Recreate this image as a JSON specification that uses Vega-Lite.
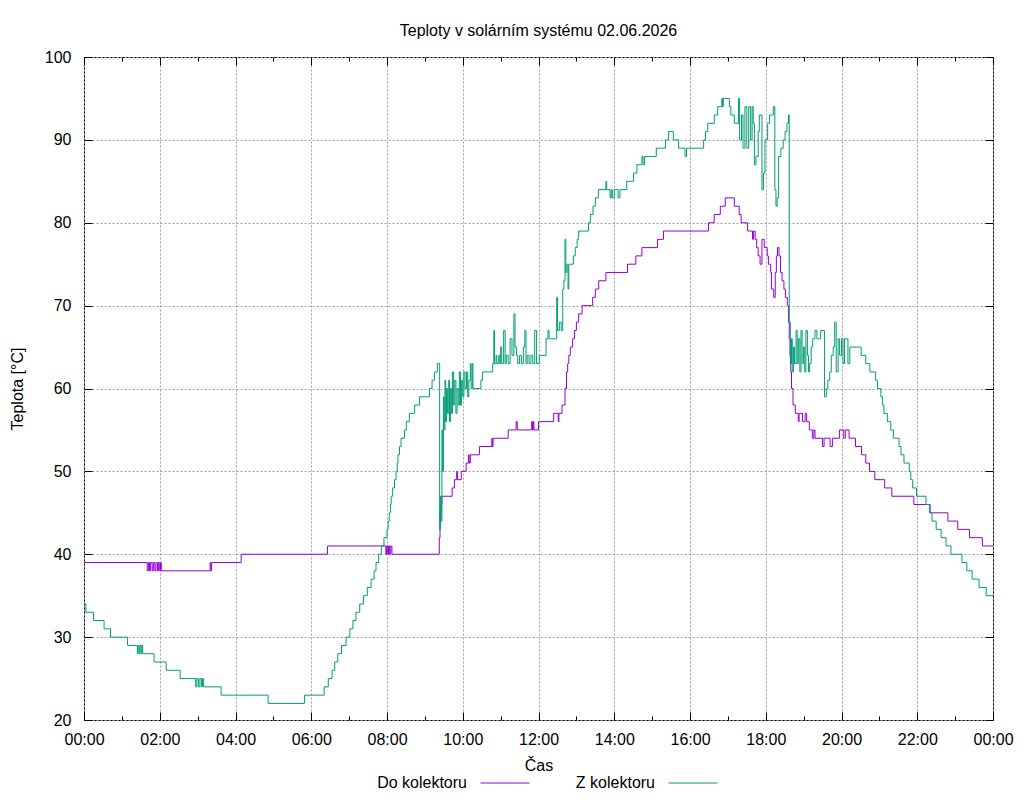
{
  "$schema": "https://vega.github.io/schema/vega-lite/v6.json",
  "width": 909,
  "height": 663,
  "autosize": {"type": "none"},
  "padding": {"left": 84, "top": 57, "right": 31, "bottom": 80},
  "background": "white",
  "title": {
    "text": "Teploty v solárním systému 02.06.2026",
    "fontSize": 16,
    "fontWeight": "normal",
    "color": "black",
    "anchor": "middle",
    "baseline": "alphabetic",
    "offset": -3
  },
  "config": {
    "font": "Liberation Sans",
    "view": {"stroke": "black", "strokeWidth": 1},
    "axis": {
      "labelFontSize": 16,
      "titleFontSize": 16,
      "titleFontWeight": "normal",
      "labelColor": "black",
      "titleColor": "black",
      "tickColor": "black",
      "tickWidth": 1,
      "domain": false,
      "labelFlush": false,
      "labelOverlap": false,
      "gridColor": "#a0a0a0",
      "gridDash": [2, 2],
      "gridWidth": 1
    }
  },
  "data": {
    "values": [
      {"s": "Do kolektoru", "t": 0, "v": 39},
      {"s": "Do kolektoru", "t": 1.67, "v": 38},
      {"s": "Do kolektoru", "t": 1.7, "v": 39},
      {"s": "Do kolektoru", "t": 1.73, "v": 38},
      {"s": "Do kolektoru", "t": 1.76, "v": 39},
      {"s": "Do kolektoru", "t": 1.8, "v": 38},
      {"s": "Do kolektoru", "t": 1.83, "v": 39},
      {"s": "Do kolektoru", "t": 1.87, "v": 38},
      {"s": "Do kolektoru", "t": 1.9, "v": 39},
      {"s": "Do kolektoru", "t": 1.94, "v": 38},
      {"s": "Do kolektoru", "t": 1.97, "v": 39},
      {"s": "Do kolektoru", "t": 2.0, "v": 38},
      {"s": "Do kolektoru", "t": 2.02, "v": 39},
      {"s": "Do kolektoru", "t": 2.04, "v": 38},
      {"s": "Do kolektoru", "t": 3.33, "v": 39},
      {"s": "Do kolektoru", "t": 3.35, "v": 38},
      {"s": "Do kolektoru", "t": 3.37, "v": 39},
      {"s": "Do kolektoru", "t": 4.15, "v": 40},
      {"s": "Do kolektoru", "t": 6.43, "v": 41},
      {"s": "Do kolektoru", "t": 7.97, "v": 40},
      {"s": "Do kolektoru", "t": 7.99, "v": 41},
      {"s": "Do kolektoru", "t": 8.02, "v": 40},
      {"s": "Do kolektoru", "t": 8.04, "v": 41},
      {"s": "Do kolektoru", "t": 8.07, "v": 40},
      {"s": "Do kolektoru", "t": 8.1, "v": 41},
      {"s": "Do kolektoru", "t": 8.13, "v": 40},
      {"s": "Do kolektoru", "t": 9.38, "v": 42},
      {"s": "Do kolektoru", "t": 9.4, "v": 45},
      {"s": "Do kolektoru", "t": 9.43, "v": 46},
      {"s": "Do kolektoru", "t": 9.45, "v": 47},
      {"s": "Do kolektoru", "t": 9.72, "v": 48},
      {"s": "Do kolektoru", "t": 9.78, "v": 49},
      {"s": "Do kolektoru", "t": 9.84, "v": 50},
      {"s": "Do kolektoru", "t": 9.86, "v": 49},
      {"s": "Do kolektoru", "t": 9.96, "v": 50},
      {"s": "Do kolektoru", "t": 10.09, "v": 51},
      {"s": "Do kolektoru", "t": 10.15, "v": 52},
      {"s": "Do kolektoru", "t": 10.17, "v": 51},
      {"s": "Do kolektoru", "t": 10.2, "v": 52},
      {"s": "Do kolektoru", "t": 10.44, "v": 53},
      {"s": "Do kolektoru", "t": 10.77, "v": 54},
      {"s": "Do kolektoru", "t": 10.78, "v": 53},
      {"s": "Do kolektoru", "t": 10.8, "v": 54},
      {"s": "Do kolektoru", "t": 11.2, "v": 55},
      {"s": "Do kolektoru", "t": 11.41, "v": 56},
      {"s": "Do kolektoru", "t": 11.44, "v": 55},
      {"s": "Do kolektoru", "t": 11.82, "v": 56},
      {"s": "Do kolektoru", "t": 11.84, "v": 55},
      {"s": "Do kolektoru", "t": 11.86, "v": 56},
      {"s": "Do kolektoru", "t": 11.88, "v": 55},
      {"s": "Do kolektoru", "t": 12.0, "v": 56},
      {"s": "Do kolektoru", "t": 12.4, "v": 57},
      {"s": "Do kolektoru", "t": 12.52, "v": 56},
      {"s": "Do kolektoru", "t": 12.54, "v": 57},
      {"s": "Do kolektoru", "t": 12.62, "v": 58},
      {"s": "Do kolektoru", "t": 12.7, "v": 60},
      {"s": "Do kolektoru", "t": 12.74, "v": 62},
      {"s": "Do kolektoru", "t": 12.77, "v": 63},
      {"s": "Do kolektoru", "t": 12.8, "v": 64},
      {"s": "Do kolektoru", "t": 12.84, "v": 65},
      {"s": "Do kolektoru", "t": 12.9, "v": 66},
      {"s": "Do kolektoru", "t": 12.95, "v": 67},
      {"s": "Do kolektoru", "t": 13.0, "v": 68},
      {"s": "Do kolektoru", "t": 13.06, "v": 69},
      {"s": "Do kolektoru", "t": 13.15, "v": 70},
      {"s": "Do kolektoru", "t": 13.43, "v": 71},
      {"s": "Do kolektoru", "t": 13.5, "v": 72},
      {"s": "Do kolektoru", "t": 13.59, "v": 73},
      {"s": "Do kolektoru", "t": 13.78, "v": 74},
      {"s": "Do kolektoru", "t": 14.35, "v": 75},
      {"s": "Do kolektoru", "t": 14.57, "v": 76},
      {"s": "Do kolektoru", "t": 14.73, "v": 77},
      {"s": "Do kolektoru", "t": 15.14, "v": 78},
      {"s": "Do kolektoru", "t": 15.3, "v": 79},
      {"s": "Do kolektoru", "t": 16.49, "v": 80},
      {"s": "Do kolektoru", "t": 16.64, "v": 81},
      {"s": "Do kolektoru", "t": 16.8, "v": 82},
      {"s": "Do kolektoru", "t": 16.93, "v": 83},
      {"s": "Do kolektoru", "t": 17.17, "v": 82},
      {"s": "Do kolektoru", "t": 17.3, "v": 81},
      {"s": "Do kolektoru", "t": 17.35, "v": 80},
      {"s": "Do kolektoru", "t": 17.52, "v": 79},
      {"s": "Do kolektoru", "t": 17.65, "v": 78},
      {"s": "Do kolektoru", "t": 17.68, "v": 79},
      {"s": "Do kolektoru", "t": 17.72, "v": 78},
      {"s": "Do kolektoru", "t": 17.76, "v": 77},
      {"s": "Do kolektoru", "t": 17.8, "v": 76},
      {"s": "Do kolektoru", "t": 17.85, "v": 75},
      {"s": "Do kolektoru", "t": 17.9, "v": 78},
      {"s": "Do kolektoru", "t": 17.96, "v": 77},
      {"s": "Do kolektoru", "t": 18.04, "v": 76},
      {"s": "Do kolektoru", "t": 18.07, "v": 75},
      {"s": "Do kolektoru", "t": 18.13, "v": 74},
      {"s": "Do kolektoru", "t": 18.15, "v": 72},
      {"s": "Do kolektoru", "t": 18.21, "v": 71},
      {"s": "Do kolektoru", "t": 18.25, "v": 74},
      {"s": "Do kolektoru", "t": 18.28, "v": 76},
      {"s": "Do kolektoru", "t": 18.31, "v": 77},
      {"s": "Do kolektoru", "t": 18.35, "v": 76},
      {"s": "Do kolektoru", "t": 18.39, "v": 74},
      {"s": "Do kolektoru", "t": 18.43, "v": 73},
      {"s": "Do kolektoru", "t": 18.48, "v": 72},
      {"s": "Do kolektoru", "t": 18.52, "v": 71},
      {"s": "Do kolektoru", "t": 18.57, "v": 70},
      {"s": "Do kolektoru", "t": 18.6, "v": 68},
      {"s": "Do kolektoru", "t": 18.62, "v": 66},
      {"s": "Do kolektoru", "t": 18.64, "v": 64},
      {"s": "Do kolektoru", "t": 18.66, "v": 62},
      {"s": "Do kolektoru", "t": 18.68, "v": 60},
      {"s": "Do kolektoru", "t": 18.72, "v": 58},
      {"s": "Do kolektoru", "t": 18.78, "v": 57},
      {"s": "Do kolektoru", "t": 18.86, "v": 56},
      {"s": "Do kolektoru", "t": 18.88, "v": 57},
      {"s": "Do kolektoru", "t": 18.97, "v": 56},
      {"s": "Do kolektoru", "t": 19.04, "v": 57},
      {"s": "Do kolektoru", "t": 19.08, "v": 56},
      {"s": "Do kolektoru", "t": 19.15, "v": 55},
      {"s": "Do kolektoru", "t": 19.23, "v": 54},
      {"s": "Do kolektoru", "t": 19.27, "v": 55},
      {"s": "Do kolektoru", "t": 19.3, "v": 54},
      {"s": "Do kolektoru", "t": 19.5, "v": 53},
      {"s": "Do kolektoru", "t": 19.54, "v": 54},
      {"s": "Do kolektoru", "t": 19.7, "v": 53},
      {"s": "Do kolektoru", "t": 19.76, "v": 54},
      {"s": "Do kolektoru", "t": 19.95, "v": 55},
      {"s": "Do kolektoru", "t": 20.06, "v": 54},
      {"s": "Do kolektoru", "t": 20.1, "v": 55},
      {"s": "Do kolektoru", "t": 20.2, "v": 54},
      {"s": "Do kolektoru", "t": 20.37, "v": 53},
      {"s": "Do kolektoru", "t": 20.53, "v": 52},
      {"s": "Do kolektoru", "t": 20.64, "v": 51},
      {"s": "Do kolektoru", "t": 20.74, "v": 50},
      {"s": "Do kolektoru", "t": 20.88, "v": 49},
      {"s": "Do kolektoru", "t": 21.14, "v": 48},
      {"s": "Do kolektoru", "t": 21.33, "v": 47},
      {"s": "Do kolektoru", "t": 21.91, "v": 46},
      {"s": "Do kolektoru", "t": 22.34, "v": 45},
      {"s": "Do kolektoru", "t": 22.81, "v": 44},
      {"s": "Do kolektoru", "t": 23.07, "v": 43},
      {"s": "Do kolektoru", "t": 23.38, "v": 42},
      {"s": "Do kolektoru", "t": 23.72, "v": 41},
      {"s": "Do kolektoru", "t": 24.0, "v": 41},

      {"s": "Z kolektoru", "t": 0, "v": 34},
      {"s": "Z kolektoru", "t": 0.05, "v": 33},
      {"s": "Z kolektoru", "t": 0.25, "v": 32},
      {"s": "Z kolektoru", "t": 0.53, "v": 31},
      {"s": "Z kolektoru", "t": 0.7, "v": 30},
      {"s": "Z kolektoru", "t": 1.15, "v": 29},
      {"s": "Z kolektoru", "t": 1.41, "v": 28},
      {"s": "Z kolektoru", "t": 1.43, "v": 29},
      {"s": "Z kolektoru", "t": 1.46, "v": 28},
      {"s": "Z kolektoru", "t": 1.48, "v": 29},
      {"s": "Z kolektoru", "t": 1.51, "v": 28},
      {"s": "Z kolektoru", "t": 1.53, "v": 29},
      {"s": "Z kolektoru", "t": 1.55, "v": 28},
      {"s": "Z kolektoru", "t": 1.85, "v": 27},
      {"s": "Z kolektoru", "t": 2.17, "v": 26},
      {"s": "Z kolektoru", "t": 2.54, "v": 25},
      {"s": "Z kolektoru", "t": 2.95, "v": 24},
      {"s": "Z kolektoru", "t": 2.98, "v": 25},
      {"s": "Z kolektoru", "t": 3.02, "v": 24},
      {"s": "Z kolektoru", "t": 3.06, "v": 25},
      {"s": "Z kolektoru", "t": 3.1, "v": 24},
      {"s": "Z kolektoru", "t": 3.13, "v": 25},
      {"s": "Z kolektoru", "t": 3.16, "v": 24},
      {"s": "Z kolektoru", "t": 3.62, "v": 23},
      {"s": "Z kolektoru", "t": 4.86, "v": 22},
      {"s": "Z kolektoru", "t": 5.82, "v": 23},
      {"s": "Z kolektoru", "t": 6.34, "v": 24},
      {"s": "Z kolektoru", "t": 6.45, "v": 25},
      {"s": "Z kolektoru", "t": 6.55, "v": 26},
      {"s": "Z kolektoru", "t": 6.62, "v": 27},
      {"s": "Z kolektoru", "t": 6.7, "v": 28},
      {"s": "Z kolektoru", "t": 6.8, "v": 29},
      {"s": "Z kolektoru", "t": 6.92, "v": 30},
      {"s": "Z kolektoru", "t": 7.02, "v": 31},
      {"s": "Z kolektoru", "t": 7.1, "v": 32},
      {"s": "Z kolektoru", "t": 7.18, "v": 33},
      {"s": "Z kolektoru", "t": 7.28, "v": 34},
      {"s": "Z kolektoru", "t": 7.38, "v": 35},
      {"s": "Z kolektoru", "t": 7.48, "v": 36},
      {"s": "Z kolektoru", "t": 7.58, "v": 37},
      {"s": "Z kolektoru", "t": 7.66, "v": 38},
      {"s": "Z kolektoru", "t": 7.71, "v": 39},
      {"s": "Z kolektoru", "t": 7.78, "v": 40},
      {"s": "Z kolektoru", "t": 7.85, "v": 41},
      {"s": "Z kolektoru", "t": 7.92, "v": 42},
      {"s": "Z kolektoru", "t": 8.0, "v": 43},
      {"s": "Z kolektoru", "t": 8.03, "v": 44},
      {"s": "Z kolektoru", "t": 8.06, "v": 45},
      {"s": "Z kolektoru", "t": 8.09, "v": 46},
      {"s": "Z kolektoru", "t": 8.11, "v": 47},
      {"s": "Z kolektoru", "t": 8.15, "v": 48},
      {"s": "Z kolektoru", "t": 8.2, "v": 49},
      {"s": "Z kolektoru", "t": 8.24, "v": 50},
      {"s": "Z kolektoru", "t": 8.27, "v": 51},
      {"s": "Z kolektoru", "t": 8.29, "v": 52},
      {"s": "Z kolektoru", "t": 8.33, "v": 53},
      {"s": "Z kolektoru", "t": 8.37, "v": 54},
      {"s": "Z kolektoru", "t": 8.46, "v": 55},
      {"s": "Z kolektoru", "t": 8.51, "v": 56},
      {"s": "Z kolektoru", "t": 8.59, "v": 57},
      {"s": "Z kolektoru", "t": 8.73, "v": 58},
      {"s": "Z kolektoru", "t": 8.86, "v": 59},
      {"s": "Z kolektoru", "t": 9.12, "v": 60},
      {"s": "Z kolektoru", "t": 9.19, "v": 61},
      {"s": "Z kolektoru", "t": 9.25, "v": 62},
      {"s": "Z kolektoru", "t": 9.33, "v": 63},
      {"s": "Z kolektoru", "t": 9.39, "v": 43},
      {"s": "Z kolektoru", "t": 9.41, "v": 47},
      {"s": "Z kolektoru", "t": 9.43, "v": 44},
      {"s": "Z kolektoru", "t": 9.45, "v": 55},
      {"s": "Z kolektoru", "t": 9.47, "v": 50},
      {"s": "Z kolektoru", "t": 9.49, "v": 59},
      {"s": "Z kolektoru", "t": 9.51, "v": 55},
      {"s": "Z kolektoru", "t": 9.53, "v": 61},
      {"s": "Z kolektoru", "t": 9.55, "v": 56},
      {"s": "Z kolektoru", "t": 9.57, "v": 60},
      {"s": "Z kolektoru", "t": 9.6, "v": 57},
      {"s": "Z kolektoru", "t": 9.63, "v": 61},
      {"s": "Z kolektoru", "t": 9.65, "v": 56},
      {"s": "Z kolektoru", "t": 9.68, "v": 60},
      {"s": "Z kolektoru", "t": 9.7, "v": 57},
      {"s": "Z kolektoru", "t": 9.73, "v": 62},
      {"s": "Z kolektoru", "t": 9.76, "v": 58},
      {"s": "Z kolektoru", "t": 9.79, "v": 61},
      {"s": "Z kolektoru", "t": 9.82, "v": 57},
      {"s": "Z kolektoru", "t": 9.85, "v": 60},
      {"s": "Z kolektoru", "t": 9.88, "v": 58},
      {"s": "Z kolektoru", "t": 9.91, "v": 62},
      {"s": "Z kolektoru", "t": 9.94, "v": 58},
      {"s": "Z kolektoru", "t": 9.97, "v": 61},
      {"s": "Z kolektoru", "t": 10.0, "v": 59},
      {"s": "Z kolektoru", "t": 10.03, "v": 62},
      {"s": "Z kolektoru", "t": 10.06, "v": 60},
      {"s": "Z kolektoru", "t": 10.1, "v": 62},
      {"s": "Z kolektoru", "t": 10.13, "v": 59},
      {"s": "Z kolektoru", "t": 10.16, "v": 61},
      {"s": "Z kolektoru", "t": 10.2, "v": 63},
      {"s": "Z kolektoru", "t": 10.22, "v": 60},
      {"s": "Z kolektoru", "t": 10.25, "v": 63},
      {"s": "Z kolektoru", "t": 10.27, "v": 60},
      {"s": "Z kolektoru", "t": 10.48, "v": 61},
      {"s": "Z kolektoru", "t": 10.52, "v": 62},
      {"s": "Z kolektoru", "t": 10.79, "v": 63},
      {"s": "Z kolektoru", "t": 10.82, "v": 67},
      {"s": "Z kolektoru", "t": 10.84, "v": 63},
      {"s": "Z kolektoru", "t": 10.88, "v": 64},
      {"s": "Z kolektoru", "t": 10.9, "v": 63},
      {"s": "Z kolektoru", "t": 10.95, "v": 64},
      {"s": "Z kolektoru", "t": 10.98, "v": 63},
      {"s": "Z kolektoru", "t": 11.0, "v": 65},
      {"s": "Z kolektoru", "t": 11.03, "v": 63},
      {"s": "Z kolektoru", "t": 11.08, "v": 67},
      {"s": "Z kolektoru", "t": 11.12, "v": 63},
      {"s": "Z kolektoru", "t": 11.15, "v": 64},
      {"s": "Z kolektoru", "t": 11.2, "v": 63},
      {"s": "Z kolektoru", "t": 11.25, "v": 66},
      {"s": "Z kolektoru", "t": 11.3, "v": 64},
      {"s": "Z kolektoru", "t": 11.35, "v": 69},
      {"s": "Z kolektoru", "t": 11.38, "v": 65},
      {"s": "Z kolektoru", "t": 11.42, "v": 64},
      {"s": "Z kolektoru", "t": 11.45, "v": 63},
      {"s": "Z kolektoru", "t": 11.5, "v": 64},
      {"s": "Z kolektoru", "t": 11.55, "v": 63},
      {"s": "Z kolektoru", "t": 11.6, "v": 65},
      {"s": "Z kolektoru", "t": 11.64, "v": 67},
      {"s": "Z kolektoru", "t": 11.67, "v": 63},
      {"s": "Z kolektoru", "t": 11.7, "v": 64},
      {"s": "Z kolektoru", "t": 11.75, "v": 63},
      {"s": "Z kolektoru", "t": 11.8, "v": 64},
      {"s": "Z kolektoru", "t": 11.85, "v": 63},
      {"s": "Z kolektoru", "t": 11.9, "v": 67},
      {"s": "Z kolektoru", "t": 11.95, "v": 63},
      {"s": "Z kolektoru", "t": 12.02, "v": 64},
      {"s": "Z kolektoru", "t": 12.2, "v": 66},
      {"s": "Z kolektoru", "t": 12.25, "v": 67},
      {"s": "Z kolektoru", "t": 12.28, "v": 66},
      {"s": "Z kolektoru", "t": 12.48, "v": 71},
      {"s": "Z kolektoru", "t": 12.5, "v": 67},
      {"s": "Z kolektoru", "t": 12.55, "v": 68},
      {"s": "Z kolektoru", "t": 12.6, "v": 67},
      {"s": "Z kolektoru", "t": 12.64, "v": 72},
      {"s": "Z kolektoru", "t": 12.67, "v": 73},
      {"s": "Z kolektoru", "t": 12.7, "v": 78},
      {"s": "Z kolektoru", "t": 12.72, "v": 74},
      {"s": "Z kolektoru", "t": 12.75, "v": 75},
      {"s": "Z kolektoru", "t": 12.78, "v": 72},
      {"s": "Z kolektoru", "t": 12.8, "v": 75},
      {"s": "Z kolektoru", "t": 12.92, "v": 76},
      {"s": "Z kolektoru", "t": 12.97, "v": 77},
      {"s": "Z kolektoru", "t": 13.02, "v": 78},
      {"s": "Z kolektoru", "t": 13.06, "v": 79},
      {"s": "Z kolektoru", "t": 13.32, "v": 80},
      {"s": "Z kolektoru", "t": 13.37, "v": 81},
      {"s": "Z kolektoru", "t": 13.44, "v": 82},
      {"s": "Z kolektoru", "t": 13.5, "v": 83},
      {"s": "Z kolektoru", "t": 13.58, "v": 84},
      {"s": "Z kolektoru", "t": 13.78, "v": 85},
      {"s": "Z kolektoru", "t": 13.8, "v": 84},
      {"s": "Z kolektoru", "t": 13.89, "v": 83},
      {"s": "Z kolektoru", "t": 13.92, "v": 84},
      {"s": "Z kolektoru", "t": 13.95, "v": 83},
      {"s": "Z kolektoru", "t": 14.0, "v": 84},
      {"s": "Z kolektoru", "t": 14.1, "v": 83},
      {"s": "Z kolektoru", "t": 14.15, "v": 84},
      {"s": "Z kolektoru", "t": 14.33, "v": 85},
      {"s": "Z kolektoru", "t": 14.51, "v": 86},
      {"s": "Z kolektoru", "t": 14.6, "v": 87},
      {"s": "Z kolektoru", "t": 14.73, "v": 88},
      {"s": "Z kolektoru", "t": 14.76, "v": 87},
      {"s": "Z kolektoru", "t": 14.8, "v": 88},
      {"s": "Z kolektoru", "t": 15.11, "v": 89},
      {"s": "Z kolektoru", "t": 15.35, "v": 90},
      {"s": "Z kolektoru", "t": 15.43, "v": 91},
      {"s": "Z kolektoru", "t": 15.56, "v": 90},
      {"s": "Z kolektoru", "t": 15.7, "v": 89},
      {"s": "Z kolektoru", "t": 15.87, "v": 88},
      {"s": "Z kolektoru", "t": 15.91, "v": 89},
      {"s": "Z kolektoru", "t": 16.36, "v": 90},
      {"s": "Z kolektoru", "t": 16.41, "v": 91},
      {"s": "Z kolektoru", "t": 16.47, "v": 92},
      {"s": "Z kolektoru", "t": 16.64, "v": 93},
      {"s": "Z kolektoru", "t": 16.73, "v": 94},
      {"s": "Z kolektoru", "t": 16.84, "v": 95},
      {"s": "Z kolektoru", "t": 16.86, "v": 94},
      {"s": "Z kolektoru", "t": 16.88, "v": 95},
      {"s": "Z kolektoru", "t": 17.04, "v": 94},
      {"s": "Z kolektoru", "t": 17.08, "v": 93},
      {"s": "Z kolektoru", "t": 17.17, "v": 92},
      {"s": "Z kolektoru", "t": 17.28, "v": 95},
      {"s": "Z kolektoru", "t": 17.31, "v": 90},
      {"s": "Z kolektoru", "t": 17.36, "v": 93},
      {"s": "Z kolektoru", "t": 17.4, "v": 89},
      {"s": "Z kolektoru", "t": 17.45, "v": 94},
      {"s": "Z kolektoru", "t": 17.5, "v": 89},
      {"s": "Z kolektoru", "t": 17.55, "v": 94},
      {"s": "Z kolektoru", "t": 17.6, "v": 90},
      {"s": "Z kolektoru", "t": 17.64, "v": 94},
      {"s": "Z kolektoru", "t": 17.67, "v": 92},
      {"s": "Z kolektoru", "t": 17.7, "v": 87},
      {"s": "Z kolektoru", "t": 17.74, "v": 88},
      {"s": "Z kolektoru", "t": 17.8, "v": 91},
      {"s": "Z kolektoru", "t": 17.83, "v": 93},
      {"s": "Z kolektoru", "t": 17.9, "v": 84},
      {"s": "Z kolektoru", "t": 17.94, "v": 86},
      {"s": "Z kolektoru", "t": 17.98, "v": 90},
      {"s": "Z kolektoru", "t": 18.05, "v": 92},
      {"s": "Z kolektoru", "t": 18.1, "v": 93},
      {"s": "Z kolektoru", "t": 18.2, "v": 94},
      {"s": "Z kolektoru", "t": 18.24, "v": 84},
      {"s": "Z kolektoru", "t": 18.27, "v": 82},
      {"s": "Z kolektoru", "t": 18.3, "v": 83},
      {"s": "Z kolektoru", "t": 18.34, "v": 88},
      {"s": "Z kolektoru", "t": 18.4, "v": 89},
      {"s": "Z kolektoru", "t": 18.46, "v": 90},
      {"s": "Z kolektoru", "t": 18.51, "v": 91},
      {"s": "Z kolektoru", "t": 18.56, "v": 92},
      {"s": "Z kolektoru", "t": 18.6, "v": 93},
      {"s": "Z kolektoru", "t": 18.62, "v": 68},
      {"s": "Z kolektoru", "t": 18.65, "v": 63},
      {"s": "Z kolektoru", "t": 18.68, "v": 66},
      {"s": "Z kolektoru", "t": 18.7, "v": 62},
      {"s": "Z kolektoru", "t": 18.73, "v": 65},
      {"s": "Z kolektoru", "t": 18.76, "v": 63},
      {"s": "Z kolektoru", "t": 18.8, "v": 67},
      {"s": "Z kolektoru", "t": 18.83, "v": 63},
      {"s": "Z kolektoru", "t": 18.86, "v": 66},
      {"s": "Z kolektoru", "t": 18.9, "v": 62},
      {"s": "Z kolektoru", "t": 18.93, "v": 67},
      {"s": "Z kolektoru", "t": 18.96, "v": 63},
      {"s": "Z kolektoru", "t": 19.0, "v": 65},
      {"s": "Z kolektoru", "t": 19.03, "v": 62},
      {"s": "Z kolektoru", "t": 19.06, "v": 67},
      {"s": "Z kolektoru", "t": 19.1, "v": 64},
      {"s": "Z kolektoru", "t": 19.13, "v": 62},
      {"s": "Z kolektoru", "t": 19.16, "v": 63},
      {"s": "Z kolektoru", "t": 19.2, "v": 65},
      {"s": "Z kolektoru", "t": 19.24, "v": 66},
      {"s": "Z kolektoru", "t": 19.3, "v": 67},
      {"s": "Z kolektoru", "t": 19.35, "v": 66},
      {"s": "Z kolektoru", "t": 19.45, "v": 67},
      {"s": "Z kolektoru", "t": 19.55, "v": 59},
      {"s": "Z kolektoru", "t": 19.6, "v": 60},
      {"s": "Z kolektoru", "t": 19.64, "v": 61},
      {"s": "Z kolektoru", "t": 19.69, "v": 62},
      {"s": "Z kolektoru", "t": 19.73, "v": 64},
      {"s": "Z kolektoru", "t": 19.78, "v": 65},
      {"s": "Z kolektoru", "t": 19.82, "v": 68},
      {"s": "Z kolektoru", "t": 19.86, "v": 62},
      {"s": "Z kolektoru", "t": 19.91, "v": 66},
      {"s": "Z kolektoru", "t": 19.95, "v": 64},
      {"s": "Z kolektoru", "t": 20.0, "v": 66},
      {"s": "Z kolektoru", "t": 20.04, "v": 63},
      {"s": "Z kolektoru", "t": 20.08, "v": 66},
      {"s": "Z kolektoru", "t": 20.13, "v": 66},
      {"s": "Z kolektoru", "t": 20.17, "v": 63},
      {"s": "Z kolektoru", "t": 20.22, "v": 65},
      {"s": "Z kolektoru", "t": 20.52, "v": 64},
      {"s": "Z kolektoru", "t": 20.64, "v": 63},
      {"s": "Z kolektoru", "t": 20.75, "v": 62},
      {"s": "Z kolektoru", "t": 20.9, "v": 61},
      {"s": "Z kolektoru", "t": 20.95, "v": 60},
      {"s": "Z kolektoru", "t": 21.04, "v": 59},
      {"s": "Z kolektoru", "t": 21.08, "v": 58},
      {"s": "Z kolektoru", "t": 21.12, "v": 57},
      {"s": "Z kolektoru", "t": 21.21, "v": 56},
      {"s": "Z kolektoru", "t": 21.3, "v": 55},
      {"s": "Z kolektoru", "t": 21.37, "v": 54},
      {"s": "Z kolektoru", "t": 21.52, "v": 53},
      {"s": "Z kolektoru", "t": 21.57, "v": 52},
      {"s": "Z kolektoru", "t": 21.65, "v": 51},
      {"s": "Z kolektoru", "t": 21.79, "v": 50},
      {"s": "Z kolektoru", "t": 21.83, "v": 49},
      {"s": "Z kolektoru", "t": 21.88, "v": 48},
      {"s": "Z kolektoru", "t": 21.98, "v": 47},
      {"s": "Z kolektoru", "t": 22.23, "v": 46},
      {"s": "Z kolektoru", "t": 22.32, "v": 45},
      {"s": "Z kolektoru", "t": 22.39, "v": 44},
      {"s": "Z kolektoru", "t": 22.5, "v": 43},
      {"s": "Z kolektoru", "t": 22.63, "v": 42},
      {"s": "Z kolektoru", "t": 22.76, "v": 41},
      {"s": "Z kolektoru", "t": 22.89, "v": 40},
      {"s": "Z kolektoru", "t": 23.18, "v": 39},
      {"s": "Z kolektoru", "t": 23.31, "v": 38},
      {"s": "Z kolektoru", "t": 23.45, "v": 37},
      {"s": "Z kolektoru", "t": 23.63, "v": 36},
      {"s": "Z kolektoru", "t": 23.82, "v": 35},
      {"s": "Z kolektoru", "t": 24.0, "v": 35}
    ]
  },
  "layer": [
    {
      "mark": {"type": "line", "interpolate": "step-after", "strokeWidth": 1},
      "encoding": {
        "x": {
          "field": "t",
          "type": "quantitative",
          "scale": {"domain": [0, 24], "nice": false, "zero": false},
          "axis": {
            "orient": "bottom",
            "title": "Čas",
            "titlePadding": 10,
            "values": [0, 2, 4, 6, 8, 10, 12, 14, 16, 18, 20, 22, 24],
            "labelExpr": "(datum.value % 24 < 10 ? '0' : '') + (datum.value % 24) + ':00'",
            "tickSize": -8,
            "labelPadding": 19,
            "grid": true
          }
        },
        "y": {
          "field": "v",
          "type": "quantitative",
          "scale": {"domain": [20, 100], "nice": false, "zero": false},
          "axis": {
            "orient": "left",
            "title": "Teplota [°C]",
            "titlePadding": 19,
            "values": [20, 30, 40, 50, 60, 70, 80, 90, 100],
            "tickSize": -8,
            "labelPadding": 21,
            "grid": true
          }
        },
        "color": {
          "field": "s",
          "type": "nominal",
          "scale": {"domain": ["Do kolektoru", "Z kolektoru"], "range": ["#9400d3", "#009e73"]},
          "legend": {
            "title": null,
            "orient": "none",
            "legendX": 396,
            "legendY": 701,
            "direction": "horizontal",
            "symbolType": "stroke",
            "symbolSize": 2401,
            "symbolStrokeWidth": 1,
            "labelFontSize": 16,
            "labelColor": "black",
            "labelAlign": "right",
            "labelOffset": -63,
            "columnPadding": 43
          }
        }
      }
    },
    {
      "mark": {"type": "line", "strokeOpacity": 0},
      "encoding": {
        "x": {
          "field": "t",
          "type": "quantitative",
          "axis": {
            "orient": "bottom",
            "title": null,
            "values": [1, 3, 5, 7, 9, 11, 13, 15, 17, 19, 21, 23],
            "labels": false,
            "tickSize": -4,
            "grid": false
          }
        },
        "y": {
          "field": "v",
          "type": "quantitative",
          "axis": {
            "orient": "right",
            "title": null,
            "values": [20, 30, 40, 50, 60, 70, 80, 90, 100],
            "labels": false,
            "tickSize": -8,
            "grid": false
          }
        }
      }
    },
    {
      "mark": {"type": "line", "strokeOpacity": 0},
      "encoding": {
        "x": {
          "field": "t",
          "type": "quantitative",
          "axis": {
            "orient": "top",
            "title": null,
            "values": [0, 2, 4, 6, 8, 10, 12, 14, 16, 18, 20, 22, 24],
            "labels": false,
            "tickSize": -8,
            "grid": false
          }
        },
        "y": {"field": "v", "type": "quantitative", "axis": null}
      }
    },
    {
      "mark": {"type": "line", "strokeOpacity": 0},
      "encoding": {
        "x": {
          "field": "t",
          "type": "quantitative",
          "axis": {
            "orient": "top",
            "title": null,
            "values": [1, 3, 5, 7, 9, 11, 13, 15, 17, 19, 21, 23],
            "labels": false,
            "tickSize": -4,
            "grid": false
          }
        },
        "y": {"field": "v", "type": "quantitative", "axis": null}
      }
    }
  ],
  "resolve": {"axis": {"x": "independent", "y": "independent"}}
}
